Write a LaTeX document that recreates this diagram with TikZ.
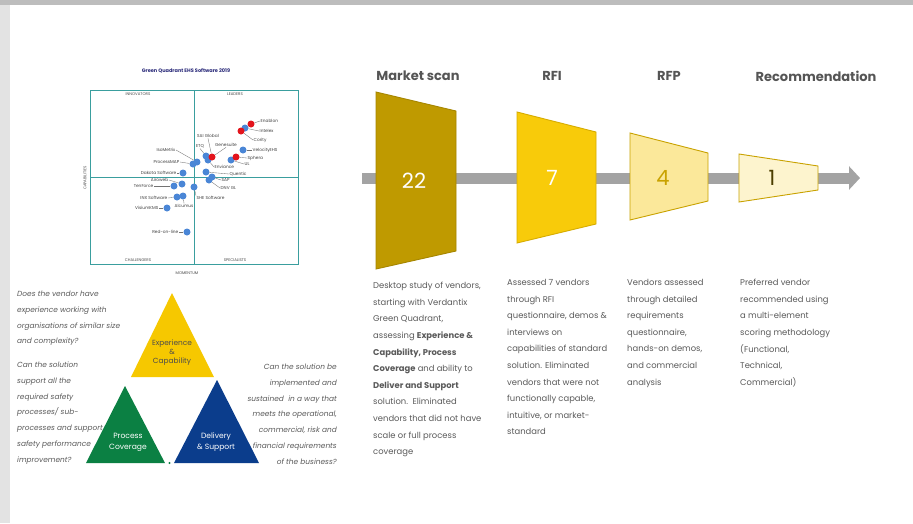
\documentclass[tikz,border=0pt]{standalone}
\usepackage{fontspec}
\setmainfont{Poppins}
\usetikzlibrary{arrows.meta}
\definecolor{goldA}{HTML}{BF9A00}
\definecolor{goldAd}{HTML}{A68600}
\definecolor{yelB}{HTML}{F8CB0A}
\definecolor{yelBd}{HTML}{D6AC00}
\definecolor{yelC}{HTML}{FBE89A}
\definecolor{yelD}{HTML}{FDF4CE}
\definecolor{edgeC}{HTML}{C9A200}
\definecolor{txtgrey}{HTML}{5A5A5A}
\definecolor{headgrey}{HTML}{555555}
\definecolor{quadteal}{HTML}{3A9E9E}
\definecolor{navytitle}{HTML}{2B2B7A}
\definecolor{dotblue}{HTML}{4A86D6}
\definecolor{dotred}{HTML}{E3141C}
\definecolor{triyel}{HTML}{F6C800}
\definecolor{trigreen}{HTML}{0B8043}
\definecolor{triblue}{HTML}{0B3D8C}
\definecolor{bargrey}{HTML}{A3A3A3}
\begin{document}
\begin{tikzpicture}[x=1pt,y=-1pt,
  bdot/.style={circle,fill=dotblue,inner sep=0pt,minimum size=7pt},
  rdot/.style={circle,fill=dotred,inner sep=0pt,minimum size=7pt},
  qlab/.style={inner sep=0.5pt,font=\fontsize{4.3}{5}\selectfont,text=black!75},
  qhead/.style={inner sep=0pt,font=\fontsize{3.9}{4.5}\selectfont,text=black!70},
  lead/.style={draw=black!55,line width=0.35pt},
  head/.style={inner sep=0pt,font=\bfseries\fontsize{13}{15}\selectfont,text=headgrey},
  num/.style={inner sep=0pt,font=\fontsize{21}{24}\selectfont},
  coltext/.style={inner sep=0pt,anchor=north west,align=left,text=txtgrey,font=\fontsize{8.4}{16.6}\selectfont},
  qtext/.style={inner sep=0pt,text=txtgrey,font=\itshape\fontsize{7.4}{15.7}\selectfont},
  tritext/.style={inner sep=0pt,align=center}
]
\useasboundingbox (0,0) rectangle (913,523);
% page background
\fill[black!11] (0,0) rectangle (913,523);
\fill[black!26] (0,0) rectangle (913,5);
\fill[white] (10,5) rectangle (913,523);

% ---------------- Green Quadrant chart ----------------
\node[inner sep=0pt,font=\bfseries\fontsize{5}{6}\selectfont,text=navytitle] (qtitle) at (186,71) {Green Quadrant EHS Software 2019};
\draw[quadteal,line width=0.9pt] (90,90) rectangle (298,264);
\draw[quadteal,line width=0.9pt] (194,90) -- (194,264);
\draw[quadteal,line width=0.9pt] (90,177) -- (298,177);
\node[qhead] (innov) at (138,94) {INNOVATORS};
\node[qhead] (lead) at (235,94) {LEADERS};
\node[qhead] (chall) at (138,260) {CHALLENGERS};
\node[qhead] (spec) at (235,260) {SPECIALISTS};
\node[qhead] (mom) at (187,273) {MOMENTUM};
\node[qhead,rotate=90] (capab) at (85,178) {CAPABILITIES};

% labels
\node[qlab,anchor=west] (lEnablon) at (260,121) {Enablon};
\node[qlab,anchor=west] (lIntelex) at (259,131) {Intelex};
\node[qlab,anchor=west] (lCority) at (253,140) {Cority};
\node[qlab,anchor=west] (lVelo) at (252,150) {VelocityEHS};
\node[qlab,anchor=west] (lSphera) at (247,158) {Sphera};
\node[qlab,anchor=west] (lUL) at (244,164) {UL};
\node[qlab] (lSAI) at (208,136) {SAI Global};
\node[qlab] (lETQ) at (200,146) {ETQ};
\node[qlab] (lGen) at (226,145) {Genesuite};
\node[qlab,anchor=west] (lEnv) at (214,167) {Enviance};
\node[qlab,anchor=west] (lQuen) at (229,174) {Quentic};
\node[qlab,anchor=west] (lSAP) at (221,180) {SAP};
\node[qlab,anchor=west] (lDNV) at (220,188) {DNV GL};
\node[qlab,anchor=west] (lSHE) at (196,198) {SHE Software};
\node[qlab,anchor=east] (lIso) at (176,150) {IsoMetrix};
\node[qlab,anchor=east] (lPM) at (180,162) {ProcessMAP};
\node[qlab,anchor=east] (lDak) at (177,173) {Dakota Software};
\node[qlab,anchor=east] (lAiro) at (169,180) {Airoweb};
\node[qlab,anchor=east] (lTen) at (154,186) {TenForce};
\node[qlab,anchor=east] (lINX) at (168,198) {INX Software};
\node[qlab,anchor=west] (lAlc) at (174,206) {Alcumus};
\node[qlab,anchor=east] (lVis) at (159,208) {VisiumKMS};
\node[qlab,anchor=east] (lRed) at (179,232) {Red-on-line};

% dots
\node[bdot] (b1) at (245,128) {};
\node[rdot] (r1) at (251,124) {};
\node[rdot] (r2) at (241,131) {};
\node[bdot] (b2) at (243,150) {};
\node[bdot] (b3) at (231,160) {};
\node[rdot] (r3) at (236,157) {};
\node[bdot] (b4) at (206,156) {};
\node[bdot] (b5) at (208,160) {};
\node[rdot] (r4) at (212,157) {};
\node[bdot] (b6) at (206,172) {};
\node[bdot] (b8) at (212,177) {};
\node[bdot] (b7) at (209,180) {};
\node[bdot] (b9) at (194,187) {};
\node[bdot] (b10) at (197,162) {};
\node[bdot] (b11) at (193,164) {};
\node[bdot] (b12) at (183,173) {};
\node[bdot] (b13) at (182,184) {};
\node[bdot] (b14) at (174,186) {};
\node[bdot] (b15) at (177,197) {};
\node[bdot] (b16) at (183,196) {};
\node[bdot] (b17) at (167,208) {};
\node[bdot] (b18) at (187,232) {};

% leaders
\draw[lead] (r1) -- (lEnablon.west);
\draw[lead] (b1) -- (lIntelex.west);
\draw[lead] (r2) -- (lCority.west);
\draw[lead] (b2) -- (lVelo.west);
\draw[lead] (r3) -- (lSphera.west);
\draw[lead] (b3) -- (lUL.west);
\draw[lead] (r4) -- (lSAI.south);
\draw[lead] (b4) -- (lETQ.south);
\draw[lead] (r4) -- (lGen.south);
\draw[lead] (b5) -- (lEnv.west);
\draw[lead] (b6) -- (lQuen.west);
\draw[lead] (b8) -- (lSAP.west);
\draw[lead] (b7) -- (lDNV.west);
\draw[lead] (b9) -- (lSHE.north west);
\draw[lead] (b10) -- (lIso.east);
\draw[lead] (b11) -- (lPM.east);
\draw[lead] (b12) -- (lDak.east);
\draw[lead] (b13) -- (lAiro.east);
\draw[lead] (b14) -- (lTen.east);
\draw[lead] (b15) -- (lINX.east);
\draw[lead] (b16) -- (lAlc.north);
\draw[lead] (b17) -- (lVis.east);
\draw[lead] (b18) -- (lRed.east);

% ---------------- Triangles ----------------
\fill[triyel] (172,293) -- (131,377) -- (214,377) -- cycle;
\fill[trigreen] (125,386) -- (86,463) -- (165,463) -- cycle;
\fill[triblue] (217,380) -- (174,463) -- (259,463) -- cycle;
\fill[trigreen] (169.5,463) circle (1.1pt);
\node[tritext,text=black!70,font=\fontsize{7.4}{9}\selectfont] (texp) at (172,353) {Experience\\\&\\Capability};
\node[tritext,text=white,font=\fontsize{7.6}{11}\selectfont] (tproc) at (128,442) {Process\\Coverage};
\node[tritext,text=white,font=\fontsize{7.6}{11}\selectfont] (tdel) at (216,442) {Delivery\\\& Support};

\node[qtext,anchor=north west,align=left] (q1) at (17,291) {Does the vendor have\\experience working with\\organisations of similar size\\and complexity?};
\node[qtext,anchor=north west,align=left] (q2) at (17,362) {Can the solution\\support all the\\required safety\\processes/ sub-\\processes and support\\safety performance\\improvement?};
\node[qtext,anchor=north east,align=right] (q3) at (337,364) {Can the solution be\\implemented and\\sustained\ \ in a way that\\meets the operational,\\commercial, risk and\\financial requirements\\of the business?};

% ---------------- Funnel ----------------
\coordinate (barstart) at (362,178);
\coordinate (bartip) at (860,178);
\draw[line width=11pt,bargrey,-{Triangle[length=11pt,width=23pt]}] (barstart) -- (bartip);

\filldraw[fill=goldA,draw=goldAd,line width=0.9pt] (376,92) -- (456,111) -- (456,251) -- (376,269) -- cycle;
\filldraw[fill=yelB,draw=yelBd,line width=0.9pt] (517,112) -- (596,132) -- (596,224) -- (517,243) -- cycle;
\filldraw[fill=yelC,draw=edgeC,line width=0.9pt] (630,133) -- (708,153) -- (708,201) -- (630,220) -- cycle;
\filldraw[fill=yelD,draw=edgeC,line width=0.9pt] (739,154) -- (818,166) -- (818,190) -- (739,202) -- cycle;

\node[num,text=white] (n22) at (414,181) {22};
\node[num,text=white] (n7) at (552,178) {7};
\node[num,text=edgeC] (n4) at (663,178) {4};
\node[num,text=black!60!goldA] (n1) at (772,178) {1};

\node[head] (h1) at (418,76) {Market scan};
\node[head] (h2) at (552,76) {RFI};
\node[head] (h3) at (669,76) {RFP};
\node[head] (h4) at (816,76) {Recommendation};

\node[coltext] (c1) at (373,282) {Desktop study of vendors,\\starting with Verdantix\\Green Quadrant,\\assessing \textbf{Experience \&}\\\textbf{Capability, Process}\\\textbf{Coverage} and ability to\\\textbf{Deliver and Support}\\solution.\ \ Eliminated\\vendors that did not have\\scale or full process\\coverage};
\node[coltext] (c2) at (507,279) {Assessed 7 vendors\\through RFI\\questionnaire, demos \&\\interviews on\\capabilities of standard\\solution. Eliminated\\vendors that were not\\functionally capable,\\intuitive, or market-\\standard};
\node[coltext] (c3) at (627,279) {Vendors assessed\\through detailed\\requirements\\questionnaire,\\hands-on demos,\\and commercial\\analysis};
\node[coltext] (c4) at (740,279) {Preferred vendor\\recommended using\\a multi-element\\scoring methodology\\(Functional,\\Technical,\\Commercial)};
\end{tikzpicture}
\end{document}
